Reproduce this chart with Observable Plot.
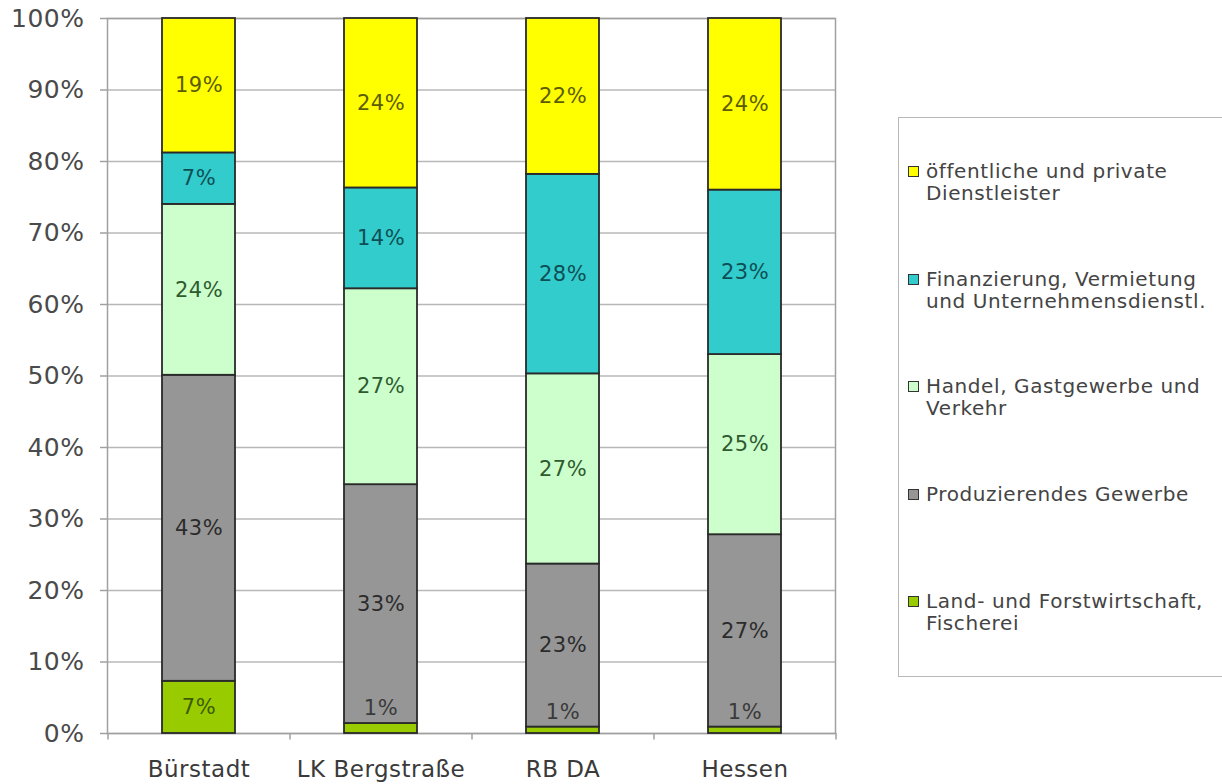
<!DOCTYPE html>
<html><head><meta charset="utf-8">
<script src="https://cdn.jsdelivr.net/npm/d3@7"></script>
<script src="https://cdn.jsdelivr.net/npm/@observablehq/plot@0.6"></script>
<style>
body{margin:0;background:#fff;font-family:"DejaVu Sans",Verdana,sans-serif;}
#wrap{position:relative;width:1222px;height:784px;overflow:hidden;}
#chart{position:absolute;left:0;top:0;}
#legend{position:absolute;left:898px;top:117px;width:340px;height:560px;border:1px solid #b8b8b8;box-sizing:border-box;}
.item{position:absolute;left:9px;font-size:20px;letter-spacing:0.6px;line-height:22px;color:#444;display:flex;align-items:flex-start;white-space:nowrap;}
.sw{width:9px;height:9px;border:1.5px solid #333;margin-top:6px;margin-right:7px;flex:none;}
svg text{letter-spacing:0.5px;}
</style></head>
<body><div id="wrap"><div id="chart"></div><div id="legend"></div></div>
<script>
const categories = ["Bürstadt", "LK Bergstraße", "RB DA", "Hessen"];
const sectors = [
  "Land- und Forstwirtschaft, Fischerei",
  "Produzierendes Gewerbe",
  "Handel, Gastgewerbe und Verkehr",
  "Finanzierung, Vermietung und Unternehmensdienstl.",
  "öffentliche und private Dienstleister"
];
const legendLabels = [
  "Land- und Forstwirtschaft,<br>Fischerei",
  "Produzierendes Gewerbe",
  "Handel, Gastgewerbe und<br>Verkehr",
  "Finanzierung, Vermietung<br>und Unternehmensdienstl.",
  "öffentliche und private<br>Dienstleister"
];
const landValues   = [7.3, 1.4, 0.9, 0.9];
const prodValues   = [42.8, 33.4, 22.8, 26.9];
const handelValues = [23.9, 27.4, 26.6, 25.2];
const finanzValues = [7.2, 14.1, 27.9, 23.0];
const oeffValues   = [18.8, 23.7, 21.8, 24.0];
const yTicks = [0, 10, 20, 30, 40, 50, 60, 70, 80, 90, 100];

const colors = ["#99cc00", "#969696", "#ccffcc", "#33cccc", "#ffff00"];
const labelColors = ["#3d5c00", "#2b2b2b", "#2f5a2f", "#0d4f55", "#5c5c00"];

const series = [landValues, prodValues, handelValues, finanzValues, oeffValues];
const rows = [];
categories.forEach((c, ci) => {
  let acc = 0;
  series.forEach((vals, si) => {
    const v = vals[ci];
    rows.push({cat: c, sector: sectors[si], si, value: v, y1: acc, y2: acc + v, mid: acc + v / 2, label: Math.round(v) + "%"});
    acc += v;
  });
});
const normal = rows.filter(d => d.value >= 3);
const small = rows.filter(d => d.value < 3);

const plot = Plot.plot({
  width: 850, height: 784,
  marginLeft: 107, marginRight: 15, marginTop: 18, marginBottom: 51,
  x: {domain: categories, paddingInner: 0.6, paddingOuter: 0.3, label: null},
  y: {domain: [0, 100], label: null},
  color: {domain: sectors, range: colors},
  style: {fontFamily: "DejaVu Sans, Verdana, sans-serif", background: "#fff", overflow: "visible"},
  marks: [
    Plot.gridY(yTicks, {stroke: "#b8b8b8", strokeOpacity: 1, strokeWidth: 1.5}),
    Plot.frame({stroke: "#a0a0a0", strokeWidth: 1.5}),
    Plot.axisY(yTicks, {tickFormat: d => d + "%", tickSize: 7, tickPadding: 16, fontSize: 25, stroke: "#a0a0a0", fill: "#4a4a4a", strokeWidth: 1.5}),
    Plot.axisX({tickSize: 0, tickPadding: 27, fontSize: 23, fill: "#3a3a3a"}),
    Plot.ruleX(categories, {x: d => d, dx: 91, y1: 0, y2: -0.9, stroke: "#a0a0a0", strokeWidth: 1.5, clip: false}),
    Plot.ruleX(categories.slice(0, 1), {x: d => d, dx: -91, y1: 0, y2: -0.9, stroke: "#a0a0a0", strokeWidth: 1.5, clip: false}),
    Plot.barY(rows, {x: "cat", y1: "y1", y2: "y2", fill: "sector", stroke: "#2a2a2a", strokeWidth: 1.8}),
    Plot.text(normal, {x: "cat", y: "mid", text: "label", fill: d => labelColors[d.si], fontSize: 21}),
    Plot.text(small, {x: "cat", y: "y2", text: "label", dy: -15, fill: "#3a3a3a", fontSize: 21})
  ]
});
document.getElementById("chart").appendChild(plot);

const legend = document.getElementById("legend");
const order = [4, 3, 2, 1, 0];
order.forEach((si, i) => {
  const it = document.createElement("div");
  it.className = "item";
  it.style.top = (42 + i * 107.5) + "px";
  it.innerHTML = `<div class="sw" style="background:${colors[si]}"></div><div>${legendLabels[si]}</div>`;
  legend.appendChild(it);
});
</script></body></html>
